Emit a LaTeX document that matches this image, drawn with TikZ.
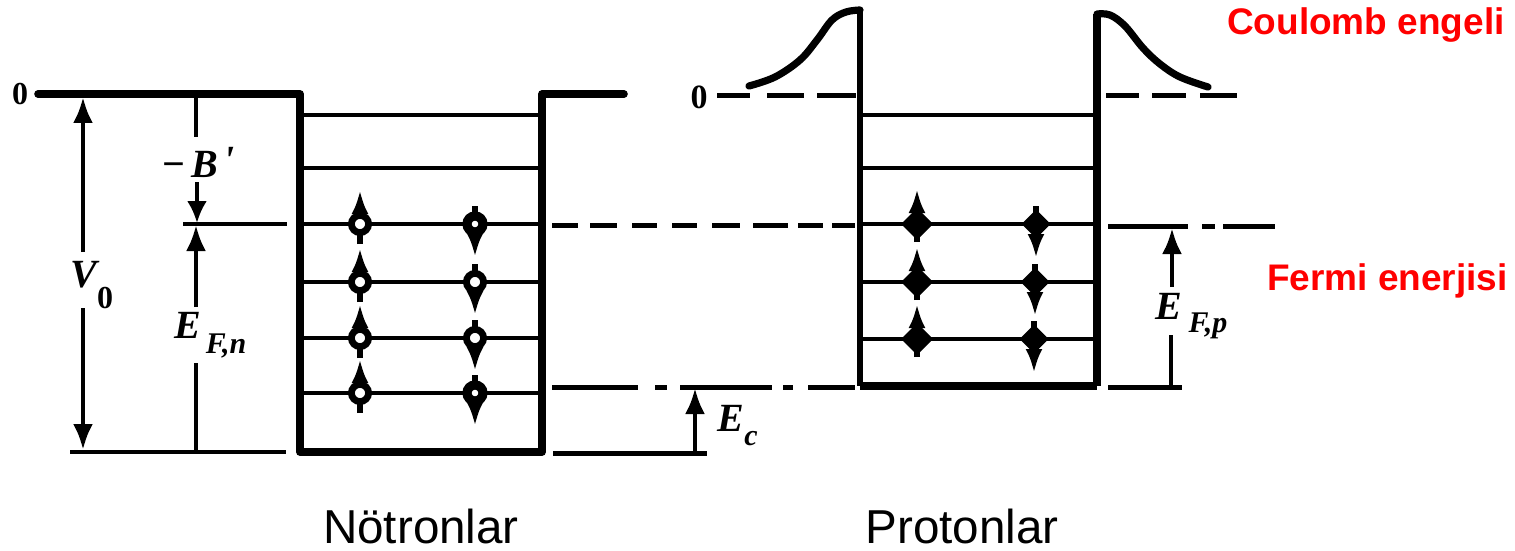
\documentclass[tikz,border=0pt]{standalone}
\usepackage{fontspec}
\setmainfont{Liberation Sans}
\newfontfamily\serifb{Liberation Serif}
\usetikzlibrary{arrows.meta,shapes.geometric}
\tikzset{
 wall/.style={line width=3.8pt,line join=round,line cap=round},
 level/.style={line width=1.9pt},
 rule/.style={line width=2.2pt},
 dim/.style={line width=2.3pt,-{Latex[length=13pt,width=10pt]}},
 stem/.style={line width=2.2pt},
 dashrule/.style={line width=2.5pt},
 upmark/.style={line width=2.8pt,-{Latex[length=12pt,width=8.5pt]}},
 redlabel/.style={text=red,font=\bfseries\fontsize{18.5}{20}\selectfont,inner sep=0pt},
 caption/.style={font=\fontsize{23.8}{26}\selectfont,inner sep=0pt},
 mathlabel/.style={font=\serifb\bfseries\itshape\fontsize{20}{22}\selectfont,inner sep=0pt},
 sublabel/.style={font=\serifb\bfseries\itshape\fontsize{15}{16}\selectfont,inner sep=0pt},
 zerolabel/.style={font=\serifb\bfseries\fontsize{16}{17}\selectfont,inner sep=0pt},
 hollow/.style={circle,draw=black,line width=3.4pt,fill=white,minimum size=8.6pt,inner sep=0pt},
 nearfull/.style={circle,draw=black,line width=4.6pt,fill=white,minimum size=8pt,inner sep=0pt},
 soliddot/.style={diamond,draw=black,fill=black,line width=2pt,line join=round,minimum size=14pt,inner sep=0pt},
}
\begin{document}
\begin{tikzpicture}[x=0.5pt,y=-0.5pt]
\useasboundingbox (0,0) rectangle (1515,551);
% ---------- neutron well
\coordinate (nl0) at (38,94);
\coordinate (nTL) at (300,94);
\coordinate (nBL) at (300,452);
\coordinate (nBR) at (542,452);
\coordinate (nTR) at (542,94);
\coordinate (nr0) at (624,94);
\draw[wall] (nl0) -- (nTL) -- (nBL) -- (nBR) -- (nTR) -- (nr0);
\foreach \y in {115,168,224,282,338,393}{
  \coordinate (a) at (302,\y); \coordinate (b) at (540,\y);
  \draw[level] (a) -- (b);
}
% neutron spins
\foreach \y in {224,282,338,393}{
  \coordinate (ut) at (360,\y-34); \coordinate (ub) at (360,\y+20);
  \draw[upmark] (ub) -- (ut);
  \node[hollow] (nu\y) at (360,\y) {};
  \coordinate (dt) at (475,\y-18); \coordinate (db) at (475,\y+33);
  \draw[upmark] (dt) -- (db);
}
\node[nearfull] (nd224) at (475,224) {};
\node[hollow] (nd282) at (475,282) {};
\node[hollow] (nd338) at (475,338) {};
\node[nearfull] (nd393) at (475,393) {};
% ---------- neutron dimensions
\coordinate (vtop) at (83,97); \coordinate (vbot) at (83,450);
\coordinate (vg1) at (83,252); \coordinate (vg2) at (83,308);
\draw[dim] (vg1) -- (vtop);
\draw[dim] (vg2) -- (vbot);
\coordinate (bline1) at (183,224); \coordinate (bline2) at (287,224);
\draw[level] (bline1) -- (bline2);
\coordinate (floor1) at (70,452); \coordinate (floor2) at (286,452);
\draw[rule] (floor1) -- (floor2);
\coordinate (mt) at (196,95); \coordinate (mt2) at (196,137);
\draw[stem] (mt) -- (mt2);
\coordinate (ba) at (197,182); \coordinate (bb) at (197,223);
\draw[line width=1.9pt,-{Latex[length=11pt,width=10pt]}] (ba) -- (bb);
\coordinate (ea) at (196,307); \coordinate (eb) at (196,225);
\draw[line width=2.2pt,-{Latex[length=13pt,width=10pt]}] (ea) -- (eb);
\coordinate (ec) at (196,363); \coordinate (ed) at (196,452);
\draw[stem] (ec) -- (ed);
\node[zerolabel] (z1) at (20,94) {0};
\node[mathlabel] (mb) at (198,162) {−\kern3pt B\kern2.5pt\raisebox{2pt}{\fontsize{20}{20}\selectfont\textquotesingle}};
\node[mathlabel] (v) at (84,275) {V};
\node[zerolabel] (v0) at (105,298) {0};
\node[mathlabel] (e1) at (188,325) {E};
\node[sublabel] (e1s) at (226,346) {F,n};
% ---------- proton well
\coordinate (pTL) at (860,10);
\coordinate (pBL) at (860,386);
\coordinate (pBR) at (1097,386);
\coordinate (pTR) at (1097,14);
\draw[line width=3.2pt,line join=round] (pTL) -- (pBL);
\draw[line width=3.8pt,line join=round] (pBL) -- (pBR);
\draw[line width=4.4pt,line join=round] (pBR) -- (pTR);
\draw[line width=3.6pt,line cap=round] plot[smooth,tension=0.6] coordinates {(749,86) (775,77) (800,60) (817,40) (832,20) (846,12) (860,10)};
\draw[line width=3.6pt,line cap=round] plot[smooth,tension=0.6] coordinates {(1097,14) (1110,15) (1125,26) (1143,48) (1160,64) (1180,77) (1208,87)};
\foreach \y in {115,168,224,282,339}{
  \coordinate (a) at (862,\y); \coordinate (b) at (1095,\y);
  \draw[level] (a) -- (b);
}
\foreach \y/\tx/\bx in {224/917/1036,282/917/1035,339/917/1034}{
  \coordinate (ut) at (\tx,\y-35); \coordinate (ub) at (\tx,\y+18);
  \draw[upmark] (ub) -- (ut);
  \coordinate (dt) at (\bx,\y-18); \coordinate (db) at (\bx,\y+34);
  \draw[upmark] (dt) -- (db);
  \node[soliddot] (pu\y) at (\tx,\y) {};
  \node[soliddot,minimum size=12.5pt] (pd\y) at (\bx,\y) {};
}
% ---------- dashed connections
\foreach \ya/\yb in {717/750,767/804,817/856,1106/1139,1152/1186,1200/1237}{
  \coordinate (sa) at (\ya,96); \coordinate (sb) at (\yb,96);
  \draw[dashrule] (sa) -- (sb);
}
\foreach \ya/\yb in {552/578,590/617,632/657,672/697,712/740,753/788,798/823,832/855}{
  \coordinate (sa) at (\ya,225); \coordinate (sb) at (\yb,225);
  \draw[dashrule] (sa) -- (sb);
}
\foreach \ya/\yb in {552/638,655/667,680/772,783/793,808/855}{
  \coordinate (sa) at (\ya,387); \coordinate (sb) at (\yb,387);
  \draw[dashrule] (sa) -- (sb);
}
\coordinate (k1) at (553,453); \coordinate (k2) at (707,453);
\draw[dashrule] (k1) -- (k2);
\node[zerolabel,font=\serifb\bfseries\fontsize{17}{18}\selectfont] (z2) at (699,97) {0};
% ---------- right dimensions
\foreach \ya/\yb in {1108/1188,1202/1215,1223/1275}{
  \coordinate (sa) at (\ya,226); \coordinate (sb) at (\yb,226);
  \draw[dashrule] (sa) -- (sb);
}
\coordinate (r3) at (1108,387); \coordinate (r4) at (1182,387);
\draw[dashrule] (r3) -- (r4);
\coordinate (pa) at (1172,287); \coordinate (pb) at (1172,228);
\draw[dim] (pa) -- (pb);
\coordinate (pc) at (1171,335); \coordinate (pd) at (1171,387);
\draw[stem] (pc) -- (pd);
\node[mathlabel] (e2) at (1169,306) {E};
\node[sublabel] (e2s) at (1208,326) {F,p};
\coordinate (ca) at (695,453); \coordinate (cb) at (695,388);
\draw[dim] (ca) -- (cb);
\node[mathlabel] (e3) at (731,418) {E};
\node[sublabel] (e3s) at (751,439) {c};
% ---------- text
\node[redlabel,anchor=east] (cl) at (1505,25) {Coulomb engeli};
\node[redlabel,anchor=east] (fl) at (1508,281) {Fermi enerjisi};
\node[caption] (nt) at (421,526) {Nötronlar};
\node[caption] (pt) at (962,526) {Protonlar};
\end{tikzpicture}
\end{document}
